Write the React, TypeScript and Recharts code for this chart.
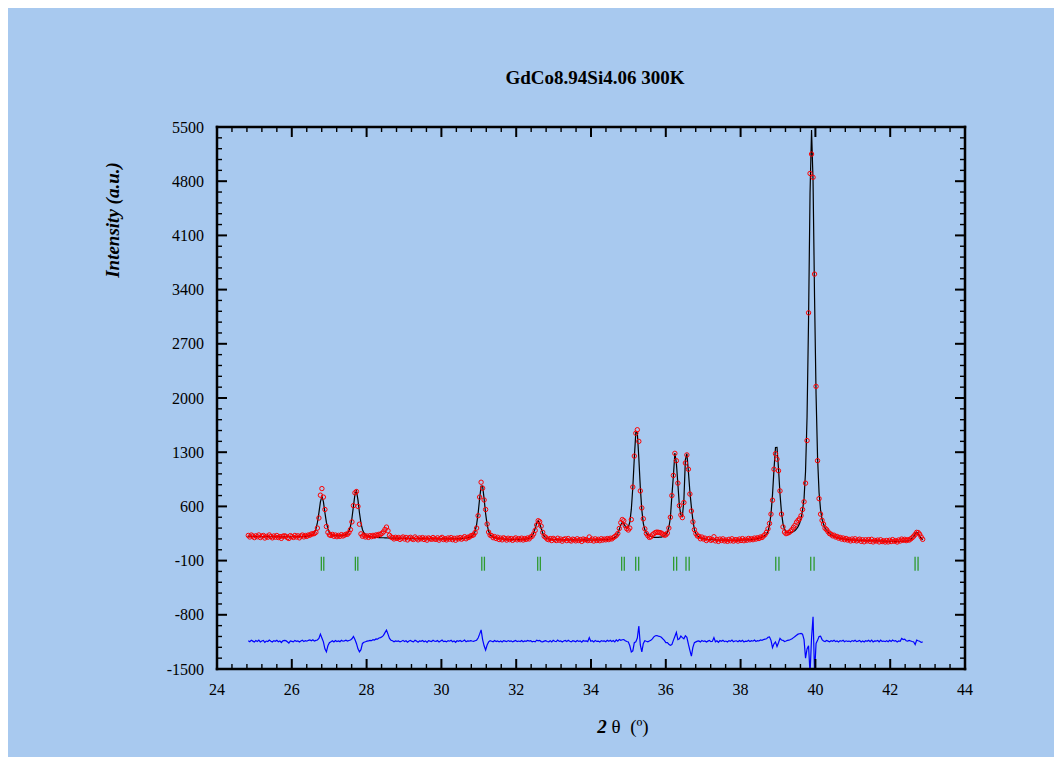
import React from "react";
import { ComposedChart, Line, Scatter, XAxis, YAxis } from "recharts";

const SERIF = "'Liberation Serif', 'Times New Roman', Times, serif";

// 2-theta scan grid (start, step) — one value per step in the arrays below
const X_START = 24.837;
const X_STEP = 0.04016;

// calculated (fitted) profile, one row = 25 steps
const CALC_INTENSITY = [
  213,213,212,212,212,211,211,211,210,210,210,210,209,209,209,209,208,208,208,208,208,207,207,207,207,
  208,208,208,208,208,208,208,209,209,210,210,211,212,214,216,219,223,229,240,261,306,390,517,659,729,
  662,520,393,309,264,242,232,226,223,221,220,220,221,223,227,235,250,279,340,447,603,754,799,684,518,
  384,300,257,234,223,216,212,208,205,202,200,199,198,196,195,195,193,193,192,191,191,190,190,190,189,
  188,188,188,187,187,187,186,186,186,185,185,185,184,184,184,184,183,183,183,182,182,182,182,182,182,
  181,181,181,181,181,181,181,181,181,181,181,181,181,182,182,183,184,185,187,189,191,195,199,206,217,
  237,279,365,507,699,861,861,699,507,364,278,236,215,204,196,192,188,185,182,180,179,178,177,176,175,
  175,175,175,175,175,175,175,176,177,178,179,182,187,197,218,257,317,384,417,384,317,256,216,195,184,
  180,177,175,173,172,171,170,169,169,168,168,168,167,167,167,167,167,167,166,166,166,166,166,167,167,
  165,165,166,166,166,166,167,167,168,168,169,170,171,173,174,176,179,183,189,199,218,253,304,361,395,
  381,343,319,330,398,561,845,1228,1552,1552,1225,840,552,381,297,255,233,220,213,206,201,199,199,199,202,
  204,211,221,240,265,330,450,735,990,1290,1160,890,607,490,470,680,1200,1280,1050,790,590,420,300,250,222,
  205,195,188,183,179,176,173,172,171,169,168,167,166,166,165,165,164,164,164,164,163,163,163,163,164,
  163,164,164,165,166,166,167,168,169,171,173,175,177,180,184,188,193,201,209,223,243,280,355,502,749,
  1079,1361,1363,1086,760,517,375,306,276,262,257,260,264,275,287,310,339,380,442,552,700,1050,1750,3000,4650,
  5460,4800,3300,2050,1230,780,555,431,368,325,293,266,250,234,223,212,205,198,193,189,185,181,178,175,173,
  169,168,167,166,165,164,163,162,161,161,160,159,158,158,157,157,156,155,155,154,154,153,153,152,151,
  150,150,150,149,149,149,149,149,149,150,150,151,151,153,155,160,170,189,217,249,265,249,217,188,169,
];

// observed intensities (red circles)
const OBS_INTENSITY = [
  225,205,230,217,197,220,208,231,198,216,225,192,213,202,231,211,194,218,203,224,198,210,187,215,220,
  214,196,186,222,211,199,225,205,220,194,218,230,206,224,213,231,228,244,245,250,265,320,450,745,830,
  720,560,340,265,232,225,238,214,230,209,226,213,235,218,229,240,240,262,300,400,610,775,792,600,370,
  245,215,228,205,218,200,222,209,226,215,232,225,240,238,252,272,303,333,285,226,205,196,180,201,187,
  198,174,192,205,179,199,167,192,201,180,173,205,186,168,193,181,197,173,190,164,193,183,175,198,178,
  175,194,164,186,200,172,183,167,192,178,197,170,188,163,191,181,198,177,191,209,182,201,201,218,225,
  232,262,320,480,720,912,835,683,560,372,268,228,222,196,210,185,201,172,190,168,194,183,165,189,171,
  185,162,180,193,168,184,170,190,166,185,174,192,180,205,215,245,290,360,415,402,345,265,215,200,178,
  170,185,159,187,174,159,189,163,178,151,173,181,158,185,163,153,177,170,155,182,159,172,148,179,168,
  172,158,205,162,178,153,181,160,175,157,183,165,178,168,185,171,189,180,196,210,225,250,315,390,430,
  415,350,312,295,320,430,850,1250,1545,1590,1440,800,580,440,310,250,222,200,207,232,248,262,268,265,262,
  255,242,228,232,255,320,460,740,1000,1285,1190,900,610,490,455,650,1160,1265,1080,760,540,400,300,248,218,
  214,182,204,179,190,159,179,186,162,172,208,155,174,148,178,160,181,154,166,149,175,156,182,152,168,
  170,152,178,160,184,157,175,163,186,168,182,170,191,178,195,185,205,198,218,235,265,310,380,500,680,
  1080,1280,1210,1060,800,500,335,268,248,255,262,280,300,330,356,395,420,440,480,560,660,900,1450,3100,4900,
  5150,4850,3600,2150,1190,700,500,420,370,318,300,272,248,242,220,228,205,212,190,200,178,192,170,186,165,
  174,154,179,160,182,154,166,177,149,169,143,169,154,171,148,175,141,161,153,165,141,169,146,156,140,
  160,141,163,146,171,150,158,140,166,153,178,162,175,158,170,165,180,195,215,238,265,262,240,205,175,
];

// difference curve (shifted, blue)
const DIFF_INTENSITY = [
  -1135,-1148,-1128,-1140,-1152,-1133,-1144,-1126,-1150,-1138,-1131,-1155,-1139,-1145,-1125,-1141,-1151,-1134,-1143,-1129,-1147,-1137,-1158,-1136,-1130,
  -1134,-1149,-1165,-1138,-1144,-1150,-1131,-1142,-1136,-1152,-1139,-1128,-1146,-1133,-1141,-1130,-1125,-1135,-1122,-1140,-1130,-1125,-1105,-1050,-1100,
  -1150,-1240,-1278,-1200,-1160,-1148,-1135,-1150,-1132,-1145,-1138,-1147,-1130,-1141,-1136,-1128,-1140,-1132,-1125,-1110,-1080,-1120,-1170,-1240,-1278,
  -1250,-1170,-1155,-1148,-1140,-1138,-1130,-1134,-1122,-1126,-1112,-1115,-1100,-1095,-1085,-1065,-1030,-998,-1050,-1105,-1128,-1135,-1148,-1137,-1142,
  -1138,-1150,-1141,-1130,-1146,-1135,-1155,-1139,-1132,-1144,-1149,-1128,-1140,-1153,-1136,-1143,-1131,-1148,-1137,-1156,-1134,-1140,-1145,-1130,-1142,
  -1143,-1132,-1152,-1139,-1127,-1147,-1140,-1150,-1134,-1141,-1130,-1148,-1137,-1155,-1135,-1142,-1131,-1146,-1139,-1126,-1149,-1136,-1141,-1133,-1138,
  -1142,-1135,-1128,-1100,-1050,-995,-1120,-1200,-1255,-1190,-1150,-1135,-1141,-1148,-1132,-1145,-1137,-1150,-1139,-1152,-1134,-1140,-1147,-1133,-1143,
  -1136,-1150,-1140,-1131,-1147,-1139,-1145,-1133,-1149,-1138,-1143,-1132,-1140,-1135,-1148,-1142,-1150,-1128,-1137,-1131,-1146,-1149,-1140,-1134,-1145,
  -1148,-1134,-1150,-1130,-1141,-1147,-1127,-1143,-1136,-1152,-1139,-1132,-1146,-1129,-1142,-1150,-1135,-1140,-1148,-1131,-1144,-1137,-1153,-1133,-1141,
  -1138,-1146,-1095,-1142,-1135,-1150,-1131,-1144,-1139,-1152,-1133,-1141,-1136,-1148,-1130,-1143,-1128,-1145,-1132,-1150,-1125,-1140,-1118,-1130,-1122,
  -1120,-1135,-1145,-1150,-1200,-1280,-1265,-1160,-1150,-1100,-945,-1190,-1278,-1170,-1135,-1142,-1148,-1138,-1130,-1110,-1085,-1070,-1068,-1075,-1080,
  -1090,-1110,-1130,-1160,-1160,-1180,-1195,-1185,-1130,-1080,-1028,-1120,-1110,-1075,-1095,-1110,-1070,-1090,-1180,-1260,-1335,-1220,-1160,-1150,-1140,
  -1137,-1150,-1133,-1144,-1138,-1152,-1140,-1131,-1147,-1141,-1095,-1149,-1136,-1155,-1132,-1142,-1128,-1146,-1139,-1151,-1134,-1143,-1126,-1148,-1138,
  -1136,-1149,-1132,-1145,-1130,-1151,-1139,-1143,-1128,-1146,-1134,-1141,-1127,-1145,-1133,-1138,-1125,-1130,-1120,-1115,-1110,-1090,-1085,-1130,-1225,
  -1175,-1150,-1210,-1160,-1105,-1125,-1130,-1145,-1138,-1130,-1128,-1120,-1110,-1095,-1080,-1065,-1050,-1045,-1040,-1050,-1120,-1360,-1240,-1200,-1560,
  -1100,-826,-1560,-1170,-1130,-1080,-1075,-1120,-1138,-1145,-1132,-1140,-1148,-1135,-1143,-1130,-1146,-1137,-1150,-1134,-1141,-1128,-1147,-1136,-1144,
  -1139,-1148,-1133,-1143,-1130,-1147,-1140,-1131,-1150,-1137,-1152,-1135,-1142,-1129,-1146,-1127,-1151,-1138,-1141,-1132,-1149,-1128,-1144,-1139,-1147,
  -1135,-1148,-1130,-1144,-1127,-1140,-1133,-1150,-1138,-1142,-1105,-1120,-1114,-1135,-1140,-1132,-1138,-1145,-1150,-1183,-1127,-1135,-1142,-1157,-1150,
];

// Bragg reflection positions (green bars)
const BRAGG_POSITIONS = [
  26.79, 26.855, 27.7, 27.765, 31.08, 31.15, 32.575, 32.645, 34.82, 34.89,
  35.195, 35.275, 36.21, 36.29, 36.54, 36.625, 38.94, 39.025, 39.875, 39.965,
  42.665, 42.745,
];
const BRAGG_LEVEL = -140;

const X_MAJOR_TICKS = [24, 26, 28, 30, 32, 34, 36, 38, 40, 42, 44];
const Y_MAJOR_TICKS = [-1500, -800, -100, 600, 1300, 2000, 2700, 3400, 4100, 4800, 5500];
const X_MINOR_STEP = 0.4;
const Y_MINOR_STEP = 140;
const X_ALL_TICKS = Array.from({ length: 51 }, (_, k) => Math.round((24 + k * X_MINOR_STEP) * 10) / 10);
const Y_ALL_TICKS = Array.from({ length: 51 }, (_, k) => -1500 + k * Y_MINOR_STEP);

const xAt = (i: number) => Math.round((X_START + i * X_STEP) * 100000) / 100000;
const obsData = OBS_INTENSITY.map((y, i) => ({ x: xAt(i), y }));
const calcData = CALC_INTENSITY.map((y, i) => ({ x: xAt(i), y }));
const diffData = DIFF_INTENSITY.map((y, i) => ({ x: xAt(i), y }));
const braggData = BRAGG_POSITIONS.map((x) => ({ x, y: BRAGG_LEVEL }));

const isXMajor = (v: number) => X_MAJOR_TICKS.some((m) => Math.abs(m - v) < 1e-6);
const isYMajor = (v: number) => Y_MAJOR_TICKS.some((m) => Math.abs(m - v) < 1e-6);

const MAJOR_LEN = 10;
const MINOR_LEN = 5;

function BottomTick(props: any) {
  const { x, y, payload } = props;
  const v = payload.value;
  const major = isXMajor(v);
  return (
    <g>
      <line x1={x} x2={x} y1={y} y2={y - (major ? MAJOR_LEN : MINOR_LEN)} stroke="#000" strokeWidth={major ? 2 : 1.4} />
      {major && (
        <text x={x} y={y + 26} textAnchor="middle" fontFamily={SERIF} fontSize={16} fill="#000">
          {v}
        </text>
      )}
    </g>
  );
}

function TopTick(props: any) {
  const { x, y, payload } = props;
  const major = isXMajor(payload.value);
  return <line x1={x} x2={x} y1={y} y2={y + (major ? MAJOR_LEN : MINOR_LEN)} stroke="#000" strokeWidth={major ? 2 : 1.4} />;
}

function LeftTick(props: any) {
  const { x, y, payload } = props;
  const v = payload.value;
  const major = isYMajor(v);
  return (
    <g>
      <line x1={x} x2={x + (major ? MAJOR_LEN : MINOR_LEN)} y1={y} y2={y} stroke="#000" strokeWidth={major ? 2 : 1.4} />
      {major && (
        <text x={x - 13} y={y + 5.5} textAnchor="end" fontFamily={SERIF} fontSize={16} fill="#000">
          {v}
        </text>
      )}
    </g>
  );
}

function RightTick(props: any) {
  const { x, y, payload } = props;
  const major = isYMajor(payload.value);
  return <line x1={x} x2={x - (major ? MAJOR_LEN : MINOR_LEN)} y1={y} y2={y} stroke="#000" strokeWidth={major ? 2 : 1.4} />;
}

function ObsCircle(props: any) {
  const { cx, cy } = props;
  if (cx == null || cy == null) return <g />;
  return <circle cx={cx} cy={cy} r={2.2} fill="none" stroke="#ff0000" strokeWidth={1} />;
}

function BraggBar(props: any) {
  const { cx, cy } = props;
  if (cx == null || cy == null) return <g />;
  return <line x1={cx} x2={cx} y1={cy - 7} y2={cy + 7} stroke="#2f9a2f" strokeWidth={1.3} />;
}

const axisLine = { stroke: "#000", strokeWidth: 2.5, strokeLinecap: "square" as const };

export default function App() {
  return (
    <div style={{ position: "relative", width: 1046, height: 749, background: "#a8c9ef" }}>
      <ComposedChart width={1046} height={749} margin={{ top: 118, right: 88, bottom: 87, left: 208 }}>
        <XAxis
          xAxisId="b"
          type="number"
          dataKey="x"
          domain={[24, 44]}
          allowDataOverflow
          ticks={X_ALL_TICKS}
          interval={0}
          height={1}
          tickLine={false}
          tickSize={0}
          tickMargin={0}
          axisLine={axisLine}
          tick={(p: any) => <BottomTick {...p} />}
        />
        <XAxis
          xAxisId="t"
          orientation="top"
          type="number"
          dataKey="x"
          domain={[24, 44]}
          allowDataOverflow
          ticks={X_ALL_TICKS}
          interval={0}
          height={1}
          tickLine={false}
          tickSize={0}
          tickMargin={0}
          axisLine={axisLine}
          tick={(p: any) => <TopTick {...p} />}
        />
        <YAxis
          yAxisId="l"
          type="number"
          dataKey="y"
          domain={[-1500, 5500]}
          allowDataOverflow
          ticks={Y_ALL_TICKS}
          interval={0}
          width={1}
          tickLine={false}
          tickSize={0}
          tickMargin={0}
          axisLine={axisLine}
          tick={(p: any) => <LeftTick {...p} />}
        />
        <YAxis
          yAxisId="r"
          orientation="right"
          type="number"
          dataKey="y"
          domain={[-1500, 5500]}
          allowDataOverflow
          ticks={Y_ALL_TICKS}
          interval={0}
          width={1}
          tickLine={false}
          tickSize={0}
          tickMargin={0}
          axisLine={axisLine}
          tick={(p: any) => <RightTick {...p} />}
        />
        <Scatter data={obsData} xAxisId="b" yAxisId="l" shape={(p: any) => <ObsCircle {...p} />} isAnimationActive={false} />
        <Line data={calcData} xAxisId="b" yAxisId="l" dataKey="y" type="linear" stroke="#000" strokeWidth={1.2} dot={false} activeDot={false} isAnimationActive={false} />
        <Line data={diffData} xAxisId="b" yAxisId="l" dataKey="y" type="linear" stroke="#0000ff" strokeWidth={1.2} dot={false} activeDot={false} isAnimationActive={false} />
        <Scatter data={braggData} xAxisId="b" yAxisId="l" shape={(p: any) => <BraggBar {...p} />} isAnimationActive={false} />
        <Scatter data={[{ x: 24, y: -1500 }]} xAxisId="t" yAxisId="r" shape={() => <g />} isAnimationActive={false} />
      </ComposedChart>

      <div
        style={{
          position: "absolute", left: 387, top: 60, width: 400, lineHeight: "20px", textAlign: "center",
          fontFamily: SERIF, fontWeight: "bold", fontSize: 19, color: "#000", pointerEvents: "none",
        }}
      >
        GdCo8.94Si4.06 300K
      </div>
      <div
        style={{
          position: "absolute", left: -15, top: 201, width: 240, height: 22, lineHeight: "22px", textAlign: "center",
          transform: "rotate(-90deg)", fontFamily: SERIF, fontWeight: "bold", fontStyle: "italic", fontSize: 19,
          color: "#000", pointerEvents: "none", whiteSpace: "nowrap",
        }}
      >
        Intensity (a.u.)
      </div>
      <div
        style={{
          position: "absolute", left: 515, top: 708, width: 200, lineHeight: "22px", textAlign: "center",
          fontFamily: SERIF, fontSize: 19, color: "#000", pointerEvents: "none", whiteSpace: "pre",
        }}
      >
        <span style={{ fontWeight: "bold", fontStyle: "italic" }}>2</span>
        {" θ  (º)"}
      </div>
    </div>
  );
}
